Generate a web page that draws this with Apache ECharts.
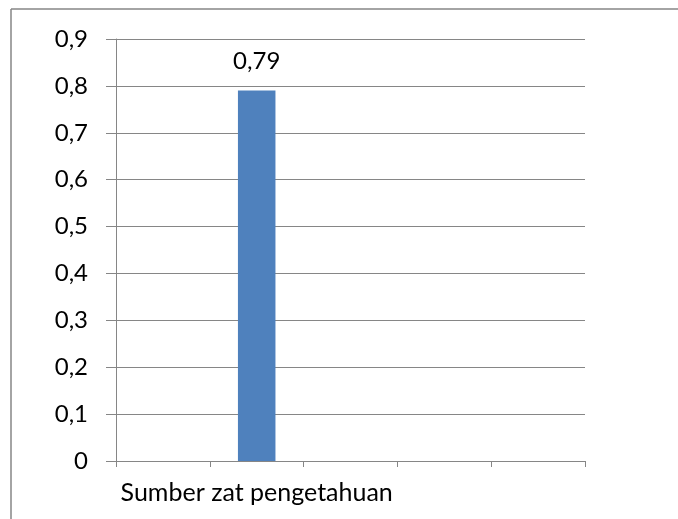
<!DOCTYPE html>
<html>
<head>
<meta charset="utf-8">
<script src="https://cdn.jsdelivr.net/npm/echarts@6/dist/echarts.min.js"></script>
<style>
  html, body { margin: 0; padding: 0; background: #fff; overflow: hidden; }
  #chart { width: 678px; height: 519px; }
</style>
</head>
<body>
<div id="chart"></div>
<script>
// Category slots along the x axis; only the second one is named and filled
const categories = ['', 'Sumber zat pengetahuan', '', '', ''];
const values = [null, 0.79, null, null, null];
// Value axis range
const yMin = 0;
const yMax = 0.9;
const yStep = 0.1;

const FONT = 'Lato';
const comma = v => String(+v.toFixed(2)).replace('.', ',');

const frame = { stroke: '#868686', lineWidth: 1.5 };

const chart = echarts.init(document.getElementById('chart'), null, { renderer: 'canvas' });
chart.setOption({
  animation: false,
  backgroundColor: '#ffffff',
  // chart-area frame: top and left edges
  graphic: [
    { type: 'line', shape: { x1: 11, y1: 9, x2: 678, y2: 9 }, style: frame, silent: true, z: -1 },
    { type: 'line', shape: { x1: 11, y1: 9, x2: 11, y2: 519 }, style: frame, silent: true, z: -1 }
  ],
  grid: { left: 116, right: 93, top: 39, bottom: 58, containLabel: false },
  xAxis: {
    type: 'category',
    data: categories,
    boundaryGap: true,
    axisLine: { show: true, lineStyle: { color: '#868686', width: 1 } },
    axisTick: { show: true, length: 6, interval: 0, lineStyle: { color: '#868686' } },
    axisLabel: { interval: 0, color: '#000', fontFamily: FONT, fontSize: 25, margin: 19 },
    splitLine: { show: false }
  },
  yAxis: {
    type: 'value',
    min: yMin, max: yMax, interval: yStep,
    axisLine: { show: true, lineStyle: { color: '#868686', width: 1 } },
    axisTick: { show: true, length: 10, lineStyle: { color: '#868686' } },
    axisLabel: { color: '#000', fontFamily: FONT, fontSize: 24, margin: 28, formatter: comma },
    splitLine: { show: true, lineStyle: { color: '#868686', width: 1 } }
  },
  series: [{
    type: 'bar',
    data: values,
    barWidth: '40%',
    itemStyle: { color: '#4F81BD' },
    label: {
      show: true, position: 'top', distance: 17,
      color: '#000', fontFamily: FONT, fontSize: 24,
      formatter: p => comma(p.value)
    }
  }]
});
</script>
</body>
</html>
